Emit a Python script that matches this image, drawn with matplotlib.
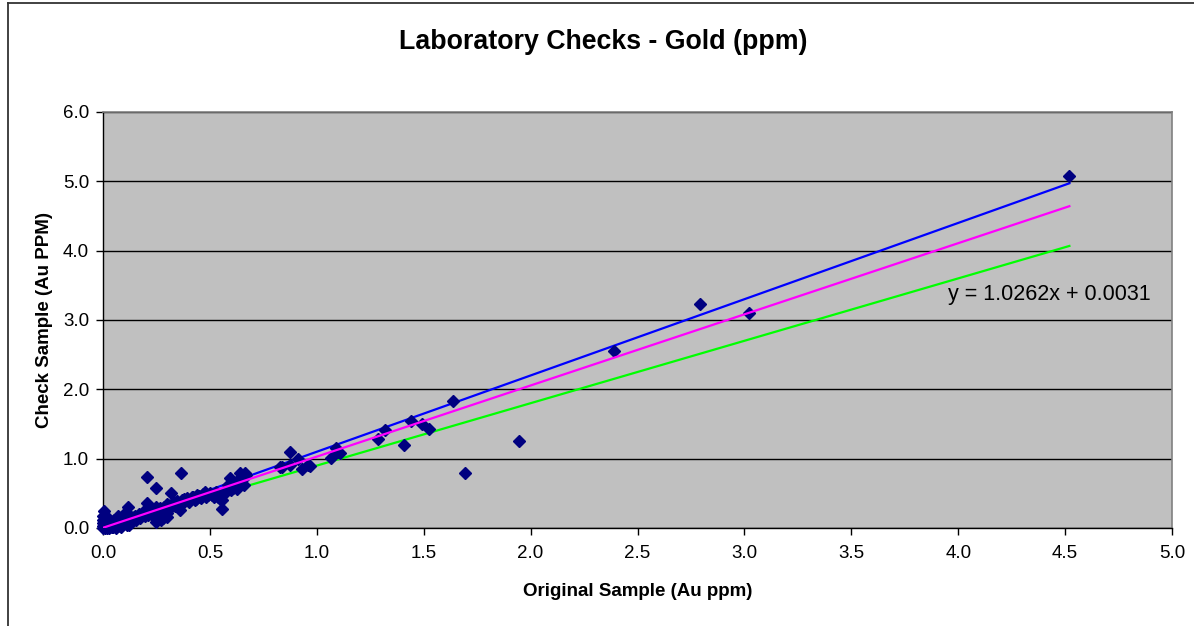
import matplotlib
matplotlib.use("Agg")
import matplotlib.pyplot as plt
from matplotlib.lines import Line2D
import numpy as np

plt.rcParams['font.family'] = ['Liberation Sans', 'DejaVu Sans']

title = "Laboratory Checks - Gold (ppm)"
xlabel = "Original Sample (Au ppm)"
ylabel = "Check Sample (Au PPM)"

original = [
    0.00, 0.005, 0.01, 0.00, 0.01, 0.02, 0.015, 0.005, 0.00, 0.02,
    0.03, 0.03, 0.04, 0.04, 0.05, 0.05, 0.06, 0.06, 0.07, 0.07,
    0.08, 0.08, 0.09, 0.09, 0.10, 0.10, 0.11, 0.117, 0.12, 0.13,
    0.14, 0.15, 0.16, 0.17, 0.18, 0.19, 0.204, 0.20, 0.204, 0.21,
    0.22, 0.23, 0.246, 0.25, 0.26, 0.27, 0.28, 0.29, 0.30, 0.31,
    0.32, 0.33, 0.34, 0.365, 0.37, 0.38, 0.40, 0.415, 0.43, 0.45,
    0.46, 0.477, 0.49, 0.50, 0.52, 0.538, 0.555, 0.555, 0.57, 0.586,
    0.594, 0.61, 0.63, 0.64, 0.65, 0.664, 0.60, 0.62, 0.66, 0.36,
    0.30, 0.03, 0.06, 0.12, 0.02, 0.045, 0.085, 0.13, 0.015, 0.035,
    0.01, 0.02, 0.025, 0.035, 0.045, 0.055, 0.065, 0.075, 0.085, 0.095,
    0.105, 0.11, 0.125, 0.135, 0.145, 0.155, 0.165, 0.175, 0.185, 0.195,
    0.215, 0.225, 0.235, 0.24, 0.255, 0.265, 0.275, 0.285, 0.295, 0.305,
    0.315, 0.325, 0.335, 0.345, 0.355, 0.375, 0.385, 0.395, 0.405, 0.42,
    0.435, 0.44, 0.455, 0.47, 0.48, 0.51, 0.53, 0.545, 0.56, 0.575,
    0.59, 0.60, 0.615, 0.625, 0.64, 0.655, 0.67, 0.03, 0.00, 0.00,
    0.015, 0.07, 0.11, 0.25, 0.28, 0.30,
    0.828, 0.836, 0.875, 0.875, 0.913, 0.93, 0.96, 0.968, 1.066, 1.09,
    1.10, 1.108, 1.286, 1.32, 1.406, 1.44, 1.49, 1.525, 1.636, 1.695,
    1.947, 2.39, 2.79, 3.02, 4.52,
]
check = [
    0.00, 0.01, 0.00, 0.03, 0.05, 0.02, 0.08, 0.245, 0.12, 0.10,
    0.04, 0.00, 0.07, 0.02, 0.05, 0.11, 0.00, 0.08, 0.03, 0.12,
    0.06, 0.15, 0.10, 0.04, 0.20, 0.08, 0.13, 0.30, 0.10, 0.16,
    0.12, 0.18, 0.14, 0.20, 0.17, 0.25, 0.36, 0.22, 0.73, 0.19,
    0.26, 0.24, 0.58, 0.30, 0.13, 0.115, 0.20, 0.17, 0.34, 0.30,
    0.50, 0.38, 0.36, 0.79, 0.40, 0.42, 0.38, 0.45, 0.41, 0.46,
    0.43, 0.52, 0.47, 0.50, 0.44, 0.45, 0.28, 0.40, 0.52, 0.62,
    0.72, 0.58, 0.60, 0.79, 0.74, 0.80, 0.55, 0.66, 0.62, 0.26,
    0.16, 0.06, 0.03, 0.05, 0.00, 0.01, 0.02, 0.09, 0.04, 0.015,
    0.02, 0.04, 0.06, 0.09, 0.03, 0.07, 0.05, 0.09, 0.11, 0.07,
    0.12, 0.05, 0.14, 0.10, 0.16, 0.12, 0.18, 0.15, 0.21, 0.18,
    0.23, 0.20, 0.27, 0.21, 0.26, 0.29, 0.25, 0.31, 0.27, 0.33,
    0.29, 0.35, 0.32, 0.39, 0.34, 0.36, 0.41, 0.43, 0.40, 0.44,
    0.42, 0.48, 0.44, 0.49, 0.45, 0.48, 0.52, 0.42, 0.47, 0.55,
    0.57, 0.64, 0.62, 0.56, 0.68, 0.70, 0.76, 0.13, 0.07, 0.17,
    0.15, 0.17, 0.22, 0.09, 0.14, 0.22,
    0.88, 0.875, 1.09, 0.91, 0.99, 0.85, 0.91, 0.90, 1.005, 1.16,
    1.10, 1.08, 1.29, 1.42, 1.19, 1.55, 1.50, 1.43, 1.83, 0.79,
    1.26, 2.55, 3.23, 3.10, 5.07,
]

upper_factor = 1.1
lower_factor = 0.9
trend_slope = 1.0262
trend_intercept = 0.0031
equation = "y = 1.0262x + 0.0031"

xticks = [0.0, 0.5, 1.0, 1.5, 2.0, 2.5, 3.0, 3.5, 4.0, 4.5, 5.0]
yticks = [0.0, 1.0, 2.0, 3.0, 4.0, 5.0, 6.0]

fig = plt.figure(figsize=(11.94, 6.26), dpi=100)
# chart-area frame: only left and top edges are visible in the crop
fig.lines.append(Line2D([8/1194, 8/1194], [0, 1 - 3/626], transform=fig.transFigure,
                        color='#333333', lw=1.3))
fig.lines.append(Line2D([8/1194, 1], [1 - 3/626, 1 - 3/626], transform=fig.transFigure,
                        color='#333333', lw=1.3))

ax = fig.add_axes([103/1194, 1 - 528/626, (1172 - 103)/1194, (528 - 112)/626])
ax.set_facecolor('#C0C0C0')

xs = np.array(original)
xmax = xs.max()
xl = np.array([0.0, xmax])
ax.plot(xl, lower_factor * xl, color='#00FF00', lw=1.6, zorder=2)
ax.plot(xl, upper_factor * xl, color='#0000FF', lw=1.6, zorder=2)
ax.plot(xs, check, linestyle='none', marker='D', markersize=5.8,
        color='#000080', markeredgecolor='#000080', zorder=3, clip_on=False)
ax.plot(xl, trend_slope * xl + trend_intercept, color='#FF00FF', lw=1.6, zorder=4)

ax.text(3.95, 3.37, equation, fontsize=15.5, va='center', ha='left', zorder=5)

ax.set_xlim(0, 5.0)
ax.set_ylim(0, 6.0)
ax.set_xticks(xticks)
ax.set_yticks(yticks)
ax.set_xticklabels([f"{t:.1f}" for t in xticks], fontsize=13.5)
ax.set_yticklabels([f"{t:.1f}" for t in yticks], fontsize=13.5)
ax.tick_params(direction='out', length=5, width=1, colors='black')
ax.tick_params(axis='x', pad=7)
ax.tick_params(axis='y', pad=5)
ax.yaxis.grid(True, color='black', linewidth=1)
ax.set_axisbelow(True)
for s in ['top', 'right']:
    ax.spines[s].set_color('#808080')
    ax.spines[s].set_linewidth(1.2)
for s in ['left', 'bottom']:
    ax.spines[s].set_color('black')
    ax.spines[s].set_linewidth(1)

ax.set_xlabel(xlabel, fontsize=13.5, fontweight='bold', labelpad=15)
ax.set_ylabel(ylabel, fontsize=13.5, fontweight='bold', labelpad=7)
fig.text(603/1194, 1 - 42/626, title, fontsize=19.3, fontweight='bold',
         ha='center', va='center')

fig.savefig('out.png', dpi=100)
